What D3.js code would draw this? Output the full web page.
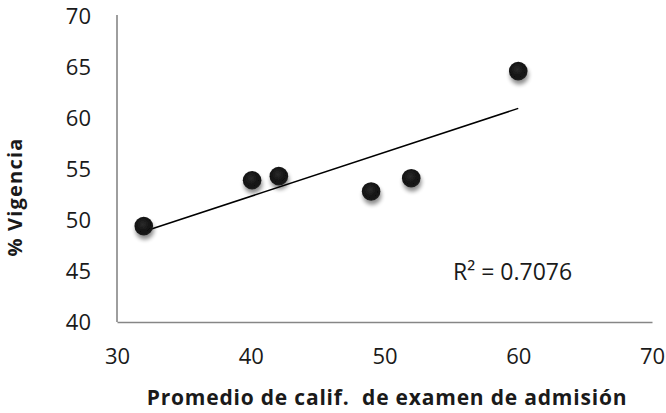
<!DOCTYPE html>
<html>
<head>
<meta charset="utf-8">
<script src="https://cdn.jsdelivr.net/npm/d3@7"></script>
<style>
  html, body { margin: 0; padding: 0; background: #fff; }
  svg { display: block; }
  text { font-family: "Open Sans", "Noto Sans", sans-serif; fill: #1a1a1a; }
</style>
</head>
<body>
<svg id="chart" width="666" height="413"></svg>
<script>
// Average admission-exam score vs. % of students still enrolled ("vigencia")
const examScores = [32, 40.1, 42.1, 49, 52, 60];
const vigencia   = [49.4, 53.9, 54.3, 52.8, 54.1, 64.6];
const xTicks = [30, 40, 50, 60, 70];
const yTicks = [40, 45, 50, 55, 60, 65, 70];
const rSquaredLabel = "R² = 0.7076";
const xTitle = "Promedio de calif.  de examen de admisión";
const yTitle = "% Vigencia";

const svg = d3.select("#chart");

const x = d3.scaleLinear().domain([30, 70]).range([117, 652]);
const y = d3.scaleLinear().domain([40, 70]).range([322, 16]);

const defs = svg.append("defs");
const shadow = defs.append("filter").attr("id", "markerShadow")
  .attr("x", "-60%").attr("y", "-60%").attr("width", "220%").attr("height", "220%");
shadow.append("feGaussianBlur").attr("in", "SourceAlpha").attr("stdDeviation", 2.2).attr("result", "blur");
shadow.append("feOffset").attr("in", "blur").attr("dx", 0.5).attr("dy", 3.5).attr("result", "off");
shadow.append("feComponentTransfer").attr("in", "off").attr("result", "soft")
  .append("feFuncA").attr("type", "linear").attr("slope", 0.45);
const merge = shadow.append("feMerge");
merge.append("feMergeNode").attr("in", "soft");
merge.append("feMergeNode").attr("in", "SourceGraphic");

const grad = defs.append("radialGradient").attr("id", "markerFill")
  .attr("cx", "45%").attr("cy", "40%").attr("r", "60%");
grad.append("stop").attr("offset", "0%").attr("stop-color", "#2a2a2a");
grad.append("stop").attr("offset", "70%").attr("stop-color", "#111");
grad.append("stop").attr("offset", "100%").attr("stop-color", "#1e1e1e");

// Axes (lines only, no tick marks)
const xAxis = d3.axisBottom(x).tickValues(xTicks).tickSize(0).tickPadding(34);
const yAxis = d3.axisLeft(y).tickValues(yTicks).tickSize(0).tickPadding(26);

const gx = svg.append("g").attr("transform", `translate(0,${y(40)})`).call(xAxis);
const gy = svg.append("g").attr("transform", `translate(${x(30)},0)`).call(yAxis);

[gx, gy].forEach(g => {
  g.select(".domain").attr("stroke", "#868686").attr("stroke-width", 1.6);
  g.selectAll("text").attr("font-size", 22).attr("fill", "#1a1a1a")
    .style("font-family", '"Open Sans", sans-serif');
});
gy.select(".domain").attr("d", `M0,${y(70) - 1}V${y(40)}`);
gx.selectAll("text").attr("dy", "0.36em");
gy.selectAll("text").attr("dy", "0.36em");

// Linear least-squares trendline over the observed range
const n = examScores.length;
const mx = d3.mean(examScores), my = d3.mean(vigencia);
let sxy = 0, sxx = 0;
for (let i = 0; i < n; i++) {
  sxy += (examScores[i] - mx) * (vigencia[i] - my);
  sxx += (examScores[i] - mx) ** 2;
}
const slope = sxy / sxx;
const intercept = my - slope * mx;
const xExtent = d3.extent(examScores);

svg.append("line")
  .attr("x1", x(xExtent[0])).attr("y1", y(intercept + slope * xExtent[0]))
  .attr("x2", x(xExtent[1])).attr("y2", y(intercept + slope * xExtent[1]))
  .attr("stroke", "#000").attr("stroke-width", 1.5);

// Markers
const points = examScores.map((v, i) => ({ x: v, y: vigencia[i] }));
svg.append("g").selectAll("circle").data(points).join("circle")
  .attr("cx", d => x(d.x)).attr("cy", d => y(d.y)).attr("r", 9.3)
  .attr("fill", "url(#markerFill)")
  .attr("filter", "url(#markerShadow)");

// R² annotation
svg.append("text")
  .attr("x", 453).attr("y", 280)
  .attr("font-size", 23)
  .text(rSquaredLabel);

// Axis titles
svg.append("text")
  .attr("x", 387).attr("y", 405)
  .attr("text-anchor", "middle")
  .attr("font-size", 21).attr("font-weight", "bold")
  .attr("letter-spacing", 0.8)
  .style("white-space", "pre")
  .text(xTitle);

svg.append("text")
  .attr("transform", `translate(22,197) rotate(-90)`)
  .attr("text-anchor", "middle")
  .attr("font-size", 20).attr("font-weight", "bold")
  .attr("letter-spacing", 1.2)
  .text(yTitle);
</script>
</body>
</html>
